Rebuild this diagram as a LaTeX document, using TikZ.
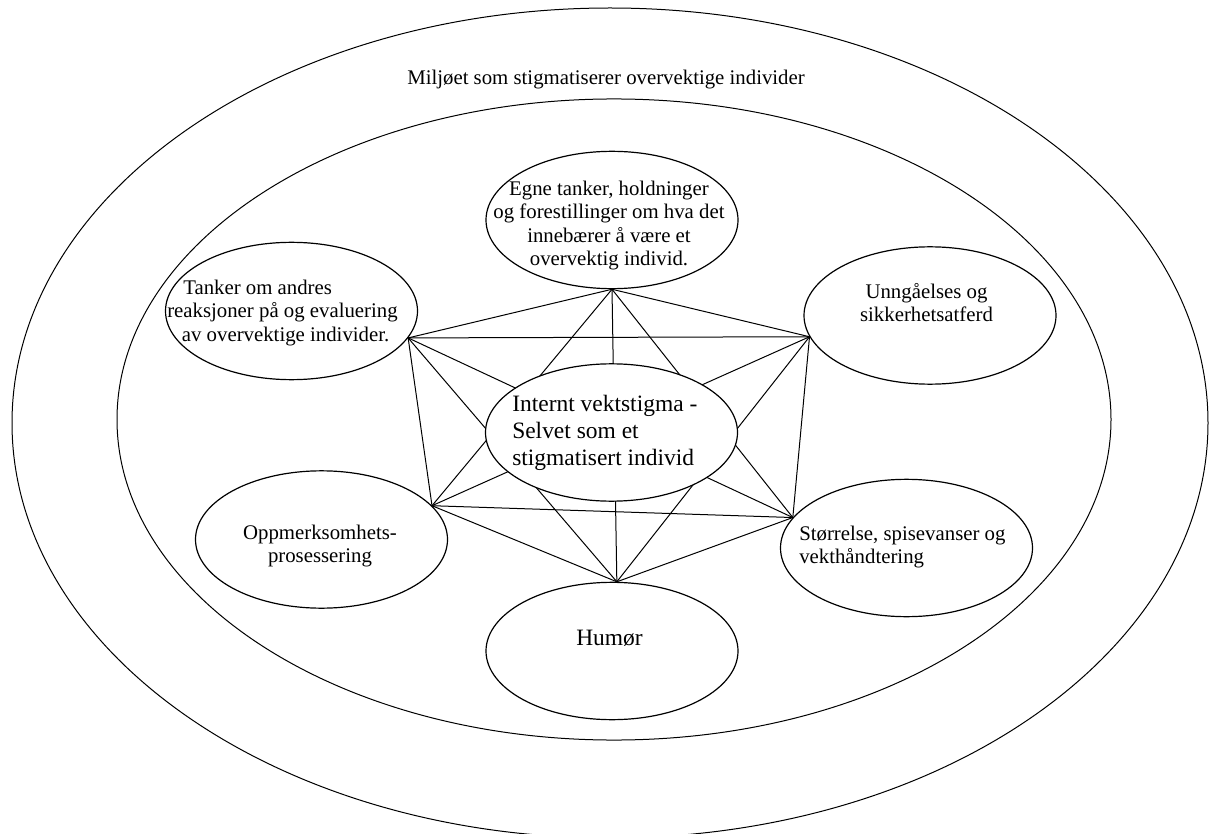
\documentclass[tikz,border=0pt]{standalone}
\usepackage{fontspec}
\setmainfont{Liberation Serif}
\usetikzlibrary{shapes.geometric}

\begin{document}
\begin{tikzpicture}[x=0.75pt, y=-0.75pt,
    boble/.style={draw, ellipse, minimum width=189pt, minimum height=103pt, inner sep=0pt, line width=0.9pt},
    tekst/.style={inner sep=0pt, align=center, font=\fontsize{15.6}{17.6}\selectfont},
    stor/.style={inner sep=0pt, align=left, font=\fontsize{17.6}{20}\selectfont},
    kant/.style={line width=0.75pt}]
  \useasboundingbox (0,0) rectangle (1214,834);

  % de to store ringene
  \draw[line width=0.75pt] (610,423) ellipse [x radius=448.5pt, y radius=311.25pt];
  \draw[line width=0.75pt] (614,419.5) ellipse [x radius=372.75pt, y radius=240.4pt];
  \node[tekst, anchor=base] (milj) at (606,85) {Miljøet som stigmatiserer overvektige individer};

  % boblene rundt midten
  \node[boble] (eg) at (612,220) {};
  \node[boble] (ta) at (291.5,311) {};
  \node[boble] (un) at (930,315.5) {};
  \node[boble] (op) at (321.5,539.5) {};
  \node[boble] (st) at (906.5,548) {};
  \node[boble] (hu) at (612,651) {};

  % koblingspunkter
  \coordinate (kt) at (eg.south);
  \coordinate (kvo) at (ta.-13);
  \coordinate (kho) at (un.190);
  \coordinate (kvn) at (op.17);
  \coordinate (khn) at (st.165);
  \coordinate (kb) at (hu.86);

  \foreach \a/\b in {kt/kvo, kt/kho, kt/kvn, kt/khn, kt/kb,
                     kvo/kho, kvo/kvn, kvo/khn, kvo/kb,
                     kho/kvn, kho/khn, kho/kb,
                     kvn/khn, kvn/kb, khn/kb}
    \draw[kant] (\a) -- (\b);

  % midten dekker linjene
  \node[boble, fill=white] (iv) at (611.5,432.5) {};

  % tekstene
  \node[tekst] (egt) at (609,225.6) {Egne tanker, holdninger\\og forestillinger om hva det\\innebærer å være et\\overvektig individ.};
  \node[tekst, align=left, anchor=west] (tat) at (167,312.6) {\hspace*{12pt}Tanker om andres\\reaksjoner på og evaluering\\\hspace*{11pt}av overvektige individer.};
  \node[tekst] (unt) at (926.5,302.6) {Unngåelses og\\sikkerhetsatferd};
  \node[tekst] (opt) at (320,545.9) {Oppmerksomhets-\\prosessering};
  \node[tekst, align=left, anchor=west] (stt) at (799,546.8) {Størrelse, spisevanser og\\vekthåndtering};
  \node[stor, anchor=west] (ivt) at (512,432.8) {Internt vektstigma -\\Selvet som et\\stigmatisert individ};
  \node[stor, anchor=base] (hut) at (609.5,645) {Humør};
\end{tikzpicture}
\end{document}
